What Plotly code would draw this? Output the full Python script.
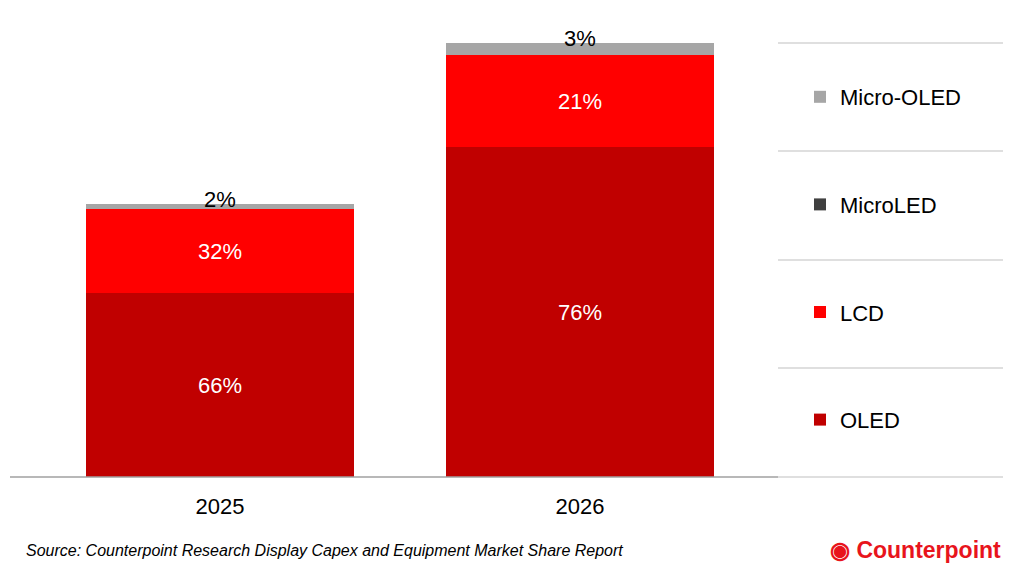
import plotly.graph_objects as go

years = ["2025", "2026"]
series = ["OLED", "LCD", "MicroLED", "Micro-OLED"]
colors = ["#C00000", "#FF0000", "#404040", "#A6A6A6"]
values = {
    "OLED": [184, 330],
    "LCD": [84, 92],
    "MicroLED": [0, 0],
    "Micro-OLED": [5, 12],
}
labels = {
    "OLED": ["66%", "76%"],
    "LCD": ["32%", "21%"],
    "MicroLED": ["", ""],
    "Micro-OLED": ["2%", "3%"],
}

fig = go.Figure()
for i, s in enumerate(series):
    top = s == "Micro-OLED"
    fig.add_bar(
        x=years, y=values[s], name=s, marker_color=colors[i], marker_line_width=0,
        text=[""] * len(years) if top else labels[s], textposition="inside",
        insidetextanchor="middle", cliponaxis=False,
        textfont=dict(size=22, color="white"),
        legendgroup=s, legendrank=len(series) - i, hoverinfo="skip",
    )

W, H = 1024, 577
OFF = 8
L, T = 40 - OFF, 43 - OFF
PW, PH = 720, 434
R, B = W - L - PW, H - T - PH
def px(x): return (x - OFF - L) / PW
def py(y): return 1 - (y - OFF - T) / PH

shapes = [dict(type="line", xref="paper", yref="paper", x0=px(10), x1=px(778), y0=0, y1=0,
               line=dict(color="#A0A0A0", width=1.5))]
for yy in [43, 151, 260, 368, 477]:
    shapes.append(dict(type="line", xref="paper", yref="paper", x0=px(778), x1=px(1003),
                       y0=py(yy), y1=py(yy), line=dict(color="#BFBFBF", width=1)))

annotations = []
for j, yr in enumerate(years):
    total = sum(values[s][j] for s in series)
    annotations.append(dict(text=labels["Micro-OLED"][j], x=j, y=total, xref="x", yref="y",
                            yanchor="bottom", yshift=-10, showarrow=False,
                            font=dict(size=22, color="black")))
annotations += [
    dict(text="<i>Source: Counterpoint Research Display Capex and Equipment Market Share Report</i>",
         xref="paper", yref="paper", x=px(24), y=py(550), xanchor="left", yanchor="middle",
         showarrow=False, font=dict(size=16, color="black")),
    dict(text="<b>◉ Counterpoint</b>", xref="paper", yref="paper", x=px(1003), y=py(550),
         xanchor="right", yanchor="middle", showarrow=False,
         font=dict(size=23, color="#E8141C")),
]

fig.update_layout(
    width=W, height=H, margin=dict(l=L, r=R, t=T, b=B),
    barmode="stack", bargap=0.256,
    paper_bgcolor="white", plot_bgcolor="white",
    font=dict(family="Liberation Sans, Arial", size=22, color="#222"),
    xaxis=dict(type="category", range=[-0.5, 1.5], showline=False, ticks="outside", ticklen=10,
               tickcolor="rgba(0,0,0,0)", tickfont=dict(size=22, color="black")),
    yaxis=dict(visible=False, range=[0, 434]),
    showlegend=True,
    legend=dict(traceorder="grouped", x=px(800), xanchor="left", y=py(76), yanchor="top",
                bgcolor="rgba(0,0,0,0)",
                tracegroupgap=76, font=dict(size=22, color="black"), itemwidth=30),
    shapes=shapes,
    annotations=annotations,
)
fig.write_html("out.html")
